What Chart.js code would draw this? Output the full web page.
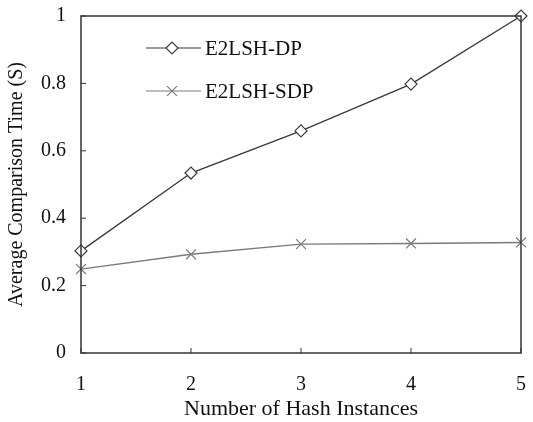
<!DOCTYPE html>
<html>
<head>
<meta charset="utf-8">
<script src="https://cdn.jsdelivr.net/npm/chart.js@4/dist/chart.umd.min.js"></script>
<style>
  html, body { margin: 0; padding: 0; background: #fff; }
  #wrap { width: 533px; height: 422px; }
</style>
</head>
<body>
<div id="wrap"><canvas id="chart" width="533" height="422"></canvas></div>
<script>
const instances = [1, 2, 3, 4, 5];
const dpTimes = [0.303, 0.534, 0.659, 0.798, 1.0];
const sdpTimes = [0.249, 0.293, 0.323, 0.325, 0.328];
const yTicks = [0, 0.2, 0.4, 0.6, 0.8, 1];
const seriesNames = ["E2LSH-DP", "E2LSH-SDP"];

const FONT = "'Liberation Serif', 'Times New Roman', serif";

// box around the plot, inward ticks and the legend drawn inside
const decor = {
  id: "decor",
  afterDraw(c) {
    const ctx = c.ctx, a = c.chartArea;
    const xs = c.scales.x, ys = c.scales.y;
    ctx.save();
    ctx.strokeStyle = "#333";
    ctx.lineWidth = 1.5;
    ctx.strokeRect(a.left, a.top, a.right - a.left, a.bottom - a.top);
    ctx.lineWidth = 1;
    yTicks.forEach(v => {
      const y = ys.getPixelForValue(v);
      ctx.beginPath(); ctx.moveTo(a.left, y); ctx.lineTo(a.left + 5, y); ctx.stroke();
    });
    instances.forEach(v => {
      const x = xs.getPixelForValue(v);
      ctx.beginPath(); ctx.moveTo(x, a.bottom); ctx.lineTo(x, a.bottom - 5); ctx.stroke();
    });

    // legend
    const rows = [48, 91];
    c.data.datasets.forEach((ds, i) => {
      const y = rows[i];
      ctx.strokeStyle = ds.borderColor;
      ctx.fillStyle = "#fff";
      ctx.lineWidth = 1.2;
      ctx.beginPath(); ctx.moveTo(146, y); ctx.lineTo(201, y); ctx.stroke();
      Chart.helpers.drawPoint(ctx, {
        pointStyle: ds.pointStyle, radius: ds.pointRadius, borderWidth: 1.2
      }, 172, y);
      ctx.fillStyle = "#111";
      ctx.font = "21px " + FONT;
      ctx.textBaseline = "middle";
      ctx.textAlign = "left";
      ctx.fillText(seriesNames[i], 205, y + 1);
    });
    ctx.restore();
  }
};

new Chart(document.getElementById("chart"), {
  type: "line",
  data: {
    labels: instances,
    datasets: [
      {
        label: seriesNames[0],
        data: instances.map((x, i) => ({ x: x, y: dpTimes[i] })),
        borderColor: "#3a3a3a",
        backgroundColor: "#fff",
        pointBackgroundColor: "#fff",
        borderWidth: 1.4,
        pointStyle: "rectRot",
        pointRadius: 6,
        pointBorderWidth: 1.2,
        tension: 0,
        clip: false
      },
      {
        label: seriesNames[1],
        data: instances.map((x, i) => ({ x: x, y: sdpTimes[i] })),
        borderColor: "#7a7a7a",
        backgroundColor: "#fff",
        borderWidth: 1.4,
        pointStyle: "crossRot",
        pointRadius: 7,
        pointBorderWidth: 1.2,
        tension: 0,
        clip: false
      }
    ]
  },
  options: {
    responsive: false,
    animation: false,
    devicePixelRatio: 1,
    layout: { padding: { top: 16, right: 12, left: 5, bottom: 0 } },
    plugins: { legend: { display: false }, tooltip: { enabled: false } },
    scales: {
      x: {
        type: "linear",
        min: 1, max: 5,
        afterBuildTicks: s => { s.ticks = instances.map(v => ({ value: v })); },
        afterFit: s => { s.height = 69; s.paddingLeft = 0; s.paddingRight = 0; },
        grid: { display: false, drawTicks: false },
        border: { display: false },
        ticks: { color: "#111", font: { family: FONT, size: 20 }, padding: 20, callback: v => v },
        title: { display: true, text: "Number of Hash Instances", color: "#111",
                 font: { family: FONT, size: 22 }, padding: { top: 0, bottom: 0 } }
      },
      y: {
        min: 0, max: 1,
        afterBuildTicks: s => { s.ticks = yTicks.map(v => ({ value: v })); },
        afterFit: s => { s.width = 76; s.paddingTop = 0; s.paddingBottom = 0; },
        grid: { display: false, drawTicks: false },
        border: { display: false },
        ticks: { color: "#111", font: { family: FONT, size: 20 }, padding: 15, callback: v => v },
        title: { display: true, text: "Average Comparison Time (S)", color: "#111",
                 font: { family: FONT, size: 20 }, padding: { top: 0, bottom: 0 } }
      }
    }
  },
  plugins: [decor]
});
</script>
</body>
</html>
